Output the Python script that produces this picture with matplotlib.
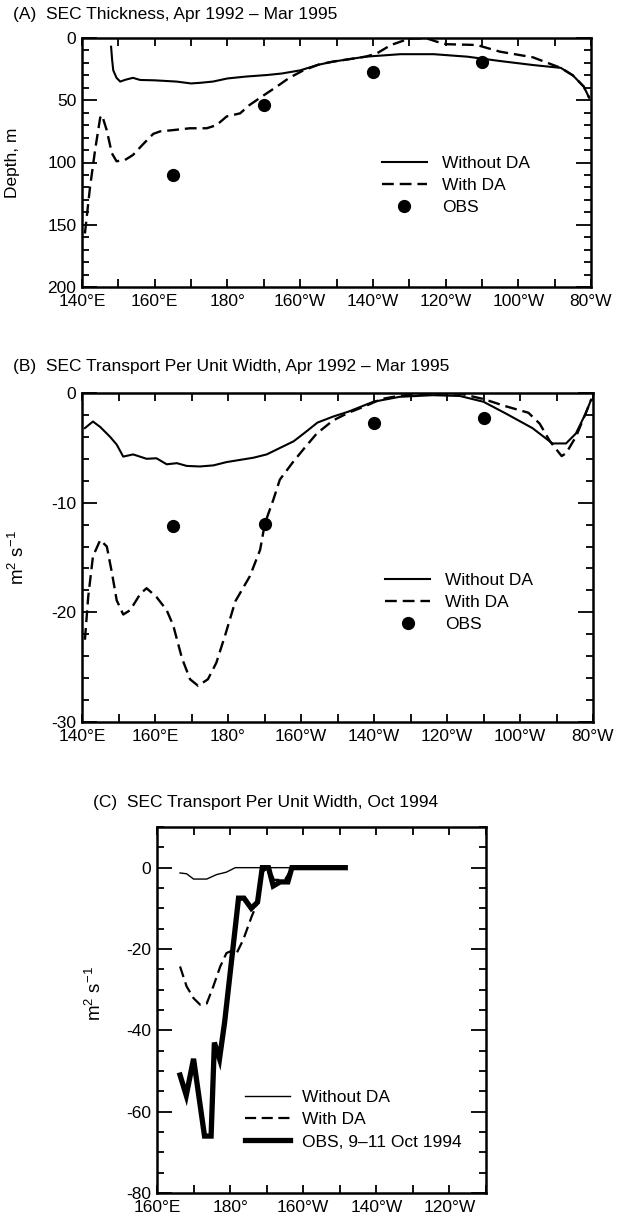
import matplotlib
matplotlib.use("Agg")
import matplotlib.pyplot as plt
from matplotlib.ticker import MultipleLocator

plt.rcParams['font.family'] = ['Liberation Sans', 'DejaVu Sans']
plt.rcParams['mathtext.fontset'] = 'custom'
plt.rcParams['mathtext.rm'] = 'Liberation Sans'
plt.rcParams['axes.unicode_minus'] = False

FS = 12.5

# longitude in degrees east (180 = dateline, 280 = 80W)
lon_ticks = [140, 160, 180, 200, 220, 240, 260, 280]
lon_labels = ['140°E', '160°E', '180°', '160°W', '140°W', '120°W', '100°W', '80°W']

# (A) SEC thickness, depth in m
a_noda_lon = [148.0, 148.3, 148.6, 149.5, 150.5, 152.0, 154.0, 156.0, 160.0, 163.0, 166.0,
              170.0, 172.5, 176.0, 180.0, 185.0, 191.0, 195.0, 200.0, 205.0, 209.0, 218.0,
              227.6, 236.7, 246.0, 255.0, 264.0, 271.7, 275.0, 278.0, 279.5]
a_noda_dep = [7, 18, 26, 32, 35, 33.5, 32, 33.7, 34, 34.5, 35,
              36.5, 36, 35, 32.5, 31, 29.7, 28.5, 26, 21.5, 19, 15,
              13, 13, 15, 18.5, 21.7, 24, 30, 39, 48]
a_da_lon = [140.8, 142.2, 143.6, 145.0, 145.5, 146.8, 148.2, 149.5, 151.8, 154.0, 156.9,
            159.6, 161.5, 165.0, 169.7, 174.3, 177.0, 179.8, 183.5, 186.0, 190.0, 193.6,
            197.0, 200.9, 205.4, 209.0, 218.0, 221.0, 225.0, 230.0, 234.8, 237.6, 240.3,
            248.6, 251.4, 255.0, 264.0, 271.7, 275.0, 278.0, 279.5]
a_da_dep = [157, 120, 90, 64, 62, 74, 92.5, 99, 98, 94, 85,
            77, 75, 74, 72.5, 72.5, 70, 63, 60.5, 54, 46, 39,
            32, 26, 21, 19, 15, 12.5, 5.6, 0.5, 0.3, 3, 5,
            5.6, 8, 11, 15.5, 24, 30, 39, 48]
a_obs_lon = [165, 190, 220, 250]
a_obs_dep = [110, 54, 27, 19]

# (B) SEC transport per unit width, m2/s
b_noda_lon = [140.8, 143.0, 145.0, 147.7, 149.5, 151.3, 154.0, 157.7, 160.4, 163.2, 166.0,
              168.7, 172.3, 176.0, 179.6, 183.3, 187.0, 190.6, 194.3, 198.0, 201.5, 204.5,
              208.8, 213.0, 219.8, 227.0, 236.0, 243.5, 250.0, 256.0, 263.4, 268.9, 272.6,
              275.3, 278.0, 279.5]
b_noda_val = [-3.2, -2.6, -3.1, -4.0, -4.7, -5.8, -5.6, -6.0, -5.95, -6.5, -6.4,
              -6.65, -6.7, -6.6, -6.3, -6.1, -5.9, -5.6, -5.0, -4.4, -3.5, -2.7,
              -2.15, -1.7, -0.8, -0.35, -0.2, -0.27, -0.8, -1.85, -3.2, -4.6, -4.6,
              -3.7, -1.85, -0.6]
b_da_lon = [140.8, 141.7, 143.0, 145.0, 146.8, 148.2, 149.5, 151.3, 153.2, 156.0, 157.7,
            160.4, 163.2, 165.0, 167.4, 169.6, 171.8, 174.5, 176.8, 179.3, 182.0, 186.0,
            188.8, 190.1, 192.4, 194.2, 197.8, 201.0, 204.3, 208.8, 213.0, 217.6, 222.0,
            227.0, 236.0, 243.5, 250.0, 256.0, 262.3, 265.4, 268.2, 271.4, 272.6, 275.3,
            278.0, 279.5]
b_da_val = [-22.5, -18.6, -14.9, -13.4, -14.0, -16.4, -18.9, -20.2, -19.8, -18.3, -17.8,
            -18.6, -19.8, -21.2, -24.2, -26.1, -26.7, -26.1, -24.6, -22.0, -19.0, -16.7,
            -14.3, -11.9, -9.75, -7.9, -6.3, -5.0, -3.7, -2.5, -1.8, -1.2, -0.55,
            -0.25, -0.05, -0.05, -0.55, -1.2, -1.8, -2.8, -4.4, -5.75, -5.5, -4.0,
            -1.85, -0.6]
b_obs_lon = [165, 190, 220, 250]
b_obs_val = [-12.1, -11.9, -2.7, -2.3]

# (C) SEC transport per unit width, Oct 1994
c_noda_lon = [166.3, 168.1, 170.0, 173.6, 176.3, 179.0, 181.4, 211.5]
c_noda_val = [-1.3, -1.5, -2.8, -2.8, -1.7, -1.1, 0, 0]
c_da_lon = [166.3, 168.1, 170.0, 171.8, 173.6, 175.4, 177.3, 179.0, 180.3, 181.8, 183.6,
            185.9, 187.3, 188.8, 190.5, 192.0, 195.0, 197.0, 211.5]
c_da_val = [-24.3, -29.2, -32.1, -33.7, -33.4, -29.2, -24.3, -21.0, -20.5, -21.0, -17.7,
            -12.0, -9.0, -1.0, 0, -3.0, -3.0, 0, 0]
c_obs_lon = [166.3, 168.0, 170.0, 173.0, 174.8, 175.7, 177.1, 178.5, 179.5, 180.5, 181.5,
             182.3, 183.8, 185.8, 187.5, 188.8, 190.5, 191.8, 193.7, 195.8, 196.9, 211.5]
c_obs_val = [-51, -56, -47, -66, -66, -43, -47, -38, -30, -22, -14,
             -7.5, -7.5, -10, -8.5, 0, 0, -4.5, -3.5, -3.5, 0, 0]


def style_axes(ax, xlim, ylim, ymajor, yminor):
    ax.set_xlim(*xlim)
    ax.set_ylim(*ylim)
    ticks = [t for t in lon_ticks if xlim[0] <= t <= xlim[1]]
    ax.set_xticks(ticks, [lon_labels[lon_ticks.index(t)] for t in ticks])
    ax.xaxis.set_minor_locator(MultipleLocator(10))
    ax.yaxis.set_major_locator(MultipleLocator(ymajor))
    ax.yaxis.set_minor_locator(MultipleLocator(yminor))
    ax.tick_params(which='both', direction='in', top=True, right=True, width=1.3,
                   labelsize=FS, color='black')
    ax.tick_params(axis='x', which='both', length=6, pad=5)
    ax.tick_params(axis='y', which='major', length=11, pad=4)
    ax.tick_params(axis='y', which='minor', length=5)
    for sp in ax.spines.values():
        sp.set_linewidth(1.8)


def add_legend(ax, x, y, handlelength=2.6, textpad=0.85):
    ax.legend(loc='upper left', bbox_to_anchor=(x, y), frameon=False, fontsize=FS,
              borderpad=0, borderaxespad=0, handlelength=handlelength,
              handletextpad=textpad, labelspacing=0.4, numpoints=1)


def make_figure():
    fig = plt.figure(figsize=(6.25, 12.22), dpi=100)

    # (A) thickness
    ax = fig.add_axes([82 / 625, 1 - 287 / 1222, 509 / 625, 249 / 1222])
    ax.plot(a_noda_lon, a_noda_dep, color='black', lw=1.5, label='Without DA')
    ax.plot(a_da_lon, a_da_dep, color='black', lw=1.7, dashes=(5, 2.5), label='With DA')
    ax.plot(a_obs_lon, a_obs_dep, 'o', color='black', ms=8.5, label='OBS')
    style_axes(ax, (140, 280), (200, 0), 50, 10)
    ax.set_ylabel('Depth, m', fontsize=FS)
    ax.yaxis.set_label_coords(-0.122, 0.5)
    add_legend(ax, 0.589, 0.526)
    fig.text(13 / 625, 1 - 14 / 1222, '(A)  SEC Thickness, Apr 1992 – Mar 1995',
             fontsize=FS, va='center', ha='left')

    # (B) transport, 3-year mean
    ax = fig.add_axes([82 / 625, 1 - 722 / 1222, 511 / 625, 329 / 1222])
    ax.plot(b_noda_lon, b_noda_val, color='black', lw=1.5, label='Without DA')
    ax.plot(b_da_lon, b_da_val, color='black', lw=1.7, dashes=(5, 2.5), label='With DA')
    ax.plot(b_obs_lon, b_obs_val, 'o', color='black', ms=8.5, label='OBS')
    style_axes(ax, (140, 280), (-30, 0), 10, 2)
    ax.set_ylabel('m$^{2}$ s$^{-1}$', fontsize=FS + 1)
    ax.yaxis.set_label_coords(-0.106, 0.5)
    add_legend(ax, 0.593, 0.453)
    fig.text(13 / 625, 1 - 367 / 1222, '(B)  SEC Transport Per Unit Width, Apr 1992 – Mar 1995',
             fontsize=FS, va='center', ha='left')

    # (C) transport, Oct 1994
    ax = fig.add_axes([157 / 625, 1 - 1193 / 1222, 329 / 625, 366 / 1222])
    ax.plot(c_noda_lon, c_noda_val, color='black', lw=1.0, label='Without DA')
    ax.plot(c_da_lon, c_da_val, color='black', lw=1.6, dashes=(5, 2.5), label='With DA')
    ax.plot(c_obs_lon, c_obs_val, color='black', lw=3.8, solid_joinstyle='miter',
            label='OBS, 9–11 Oct 1994')
    style_axes(ax, (160, 250), (-80, 10), 20, 5)
    ax.set_ylabel('m$^{2}$ s$^{-1}$', fontsize=FS + 1)
    ax.yaxis.set_label_coords(-0.158, 0.546)
    add_legend(ax, 0.267, 0.281, handlelength=2.6, textpad=0.7)
    fig.text(93 / 625, 1 - 803 / 1222, '(C)  SEC Transport Per Unit Width, Oct 1994',
             fontsize=FS, va='center', ha='left')

    fig.savefig('out.png', dpi=100)
    plt.close(fig)


if __name__ == "__main__":
    make_figure()
